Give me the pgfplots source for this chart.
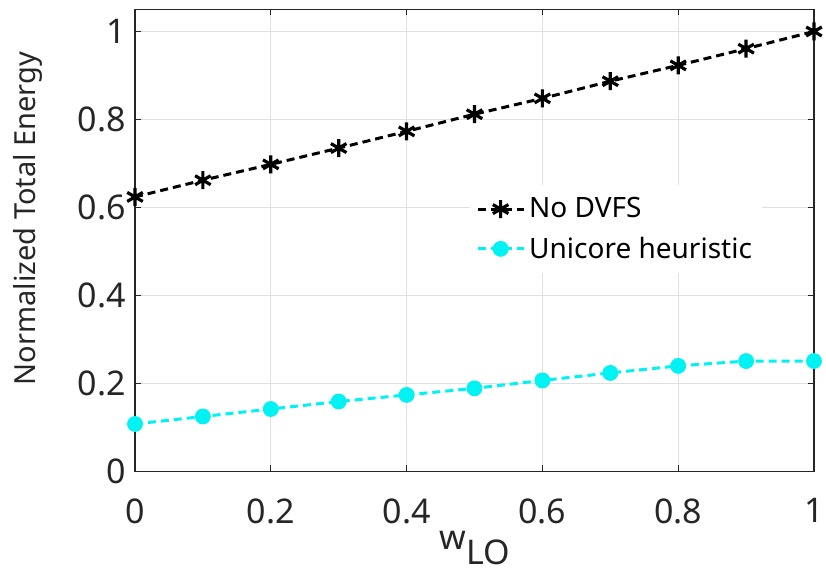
\documentclass[border=0pt]{standalone}
\usepackage{fontspec}
\setmainfont{Noto Sans}
\usepackage{pgfplots}
\pgfplotsset{compat=1.18}
\definecolor{axisgray}{gray}{0.15}
\definecolor{gridgray}{gray}{0.88}
\definecolor{uni}{rgb}{0,0.95,0.95}
\begin{document}
\begin{tikzpicture}
\useasboundingbox (-67.5pt,-52.5pt) rectangle (345.5pt,235.75pt);
\begin{axis}[
  at={(0,0)}, anchor=south west,
  scale only axis,
  width=339.5pt, height=231pt,
  xmin=0, xmax=1, ymin=0, ymax=1.05,
  xtick={0,0.2,...,1}, ytick={0,0.2,...,1},
  xticklabels={0,0.2,0.4,0.6,0.8,1},
  yticklabels={0,0.2,0.4,0.6,0.8,1},
  /pgf/number format/assume math mode=true,
  tick label style={font=\fontsize{17}{19}\selectfont, text=axisgray},
  xticklabel style={yshift=-10pt},
  yticklabel style={xshift=-1pt},
  grid=major, major grid style={gridgray, line width=0.5pt},
  axis line style={axisgray, line width=0.6pt},
  tick style={axisgray, line width=0.6pt},
  tick align=inside, major tick length=3pt,
  xlabel={\fontsize{17}{19}\selectfont w\raisebox{-0.85ex}{LO}},
  ylabel={\fontsize{14.5}{16}\selectfont Normalized Total Energy},
  % label offsets: the y label's shifts act in its rotated frame
  every axis x label/.style={at={(axis description cs:0.5,0)}, anchor=north,
    inner sep=0pt, yshift=-29.5pt, text=axisgray},
  every axis y label/.style={at={(axis description cs:0,0.5)}, rotate=90,
    anchor=south, inner sep=0pt, xshift=11pt, yshift=46pt, text=axisgray},
  legend style={at={(0.493,0.62)}, anchor=north west, draw=none, fill=white,
    font=\fontsize{14}{16}\selectfont, text=black,
    row sep=4pt, inner xsep=3pt, inner ysep=4pt},
  legend cell align=left,
  legend image code/.code={
    \draw[mark repeat=2, mark phase=2, #1] plot coordinates {(0pt,0pt) (11.5pt,0pt) (23pt,0pt)};
  },
]
\addplot[black, line width=1.5pt, dash pattern=on 4pt off 2.5pt,
  mark=asterisk, mark size=4.5pt, mark options={solid, line width=1.6pt}]
  coordinates {
  (0,0.624) (0.1,0.662) (0.2,0.698) (0.3,0.735) (0.4,0.773) (0.5,0.812)
  (0.6,0.848) (0.7,0.887) (0.8,0.923) (0.9,0.961) (1.0,1.0)
  };
\addlegendentry{No DVFS}
\addplot[uni, line width=1.5pt, dash pattern=on 4pt off 2.5pt,
  mark=*, mark size=3.2pt, mark options={solid, fill=uni, draw=uni}]
  coordinates {
  (0,0.108) (0.1,0.125) (0.2,0.142) (0.3,0.159) (0.4,0.174) (0.5,0.189)
  (0.6,0.207) (0.7,0.224) (0.8,0.240) (0.9,0.251) (1.0,0.251)
  };
\addlegendentry{Unicore heuristic}
\end{axis}
\end{tikzpicture}
\end{document}
